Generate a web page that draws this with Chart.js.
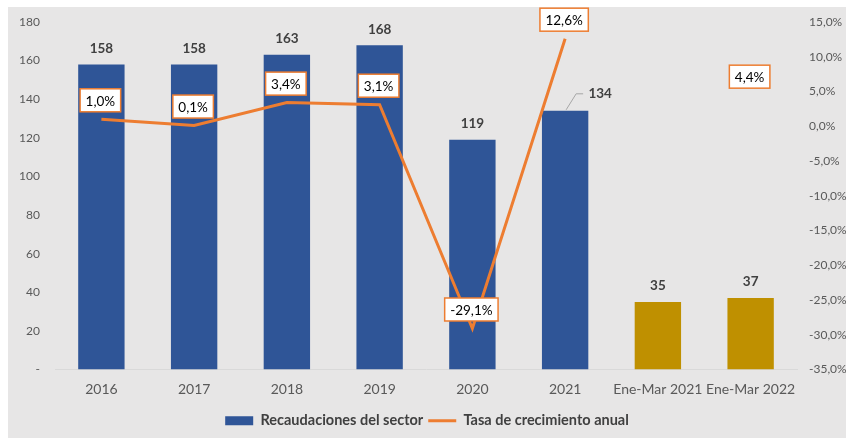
<!DOCTYPE html>
<html>
<head>
<meta charset="utf-8">
<script src="https://cdn.jsdelivr.net/npm/chart.js@4.4.0/dist/chart.umd.min.js"></script>
<style>
  html, body { margin: 0; padding: 0; background: #ffffff; }
  #wrap { position: absolute; left: 8px; top: 7px; width: 838px; height: 431px; background: #E7E6E6; }
</style>
</head>
<body>
<div id="wrap"><canvas id="chart"></canvas></div>
<script>
// data
const categories = ["2016", "2017", "2018", "2019", "2020", "2021", "Ene-Mar 2021", "Ene-Mar 2022"];
const recaudaciones = [158, 158, 163, 168, 119, 134, 35, 37];
const tasaCrecimiento = [1.0, 0.1, 3.4, 3.1, -29.1, 12.6, null, 4.4];
const leftTicks = { min: 0, max: 180, step: 20 };
const rightTicks = { min: -35, max: 15, step: 5 };

const BLUE = "#2F5597", GOLD = "#BF9000", ORANGE = "#ED7D31";
const FONT = "Lato, 'Liberation Sans', sans-serif";

const fmtPct = v => v.toFixed(1).replace('.', ',') + '%';

// draws the value labels (bars in bold, line values inside boxes)
const valueLabels = {
    id: "valueLabels",
    afterDatasetsDraw(chart) {
        const ctx = chart.ctx;
        ctx.save();
        ctx.textAlign = "center";
        ctx.textBaseline = "middle";

        const barMeta = chart.getDatasetMeta(0);
        ctx.font = "bold 13.5px " + FONT;
        ctx.fillStyle = "#404040";
        barMeta.data.forEach((bar, i) => {
            const txt = String(recaudaciones[i]);
            if (i === 5) {
                //2021 label sits off to the side with a leader line
                ctx.strokeStyle = "#A6A6A6";
                ctx.lineWidth = 1;
                ctx.beginPath();
                ctx.moveTo(bar.x + 1, bar.y - 1);
                ctx.lineTo(bar.x + 11, bar.y - 17);
                ctx.lineTo(bar.x + 18, bar.y - 17);
                ctx.stroke();
                ctx.fillText(txt, bar.x + 35, bar.y - 17);
            } else {
                ctx.fillText(txt, bar.x, bar.y - 16);
            }
        });

        const lineMeta = chart.getDatasetMeta(1);
        ctx.font = "13.5px " + FONT;
        lineMeta.data.forEach((pt, i) => {
            const v = tasaCrecimiento[i];
            if (v === null) return;
            const txt = fmtPct(v);
            const w = ctx.measureText(txt).width + 11;
            const h = 23;
            const cx = pt.x - 1, cy = pt.y - 19;
            ctx.fillStyle = "#ffffff";
            ctx.fillRect(cx - w / 2, cy - h / 2, w, h);
            ctx.strokeStyle = ORANGE;
            ctx.lineWidth = 1.5;
            ctx.strokeRect(cx - w / 2, cy - h / 2, w, h);
            ctx.fillStyle = "#000000";
            ctx.fillText(txt, cx, cy + 1);
        });
        ctx.restore();
    }
};

new Chart(document.getElementById("chart"), {
    data: {
        labels: categories,
        datasets: [
            {
                type: "bar",
                label: "Recaudaciones del sector",
                data: recaudaciones,
                backgroundColor: c => (c.dataIndex >= 6 ? GOLD : BLUE),
                yAxisID: "y",
                order: 1,
                barPercentage: 0.5,
                categoryPercentage: 1
            },
            {
                type: "line",
                label: "Tasa de crecimiento anual",
                data: tasaCrecimiento,
                borderColor: ORANGE,
                backgroundColor: ORANGE,
                borderWidth: 3,
                pointRadius: 0,
                tension: 0,
                spanGaps: false,
                yAxisID: "y1",
                order: 0
            }
        ]
    },
    options: {
        responsive: true, maintainAspectRatio: false, animation: false,
        layout: { padding: { top: 15, bottom: 0, left: 0, right: 0 } },
        scales: {
            x: {
                grid: { display: false, drawTicks: false },
                border: { display: true, color: "#D9D9D9", width: 1 },
                ticks: { color: "#595959", font: { family: FONT, size: 14 }, padding: 12, maxRotation: 0, autoSkip: false },
                afterFit: s => { s.height = 39; }
            },
            y: {
                position: "left",
                min: leftTicks.min, max: leftTicks.max,
                grid: { display: false, drawTicks: false },
                border: { display: false },
                ticks: {
                    stepSize: leftTicks.step, color: "#595959", font: { family: FONT, size: 12 }, padding: 15,
                    callback: v => (v === 0 ? "-" : v)
                },
                afterFit: s => { s.width = 47; s.paddingTop = 7; s.paddingBottom = 7; }
            },
            y1: {
                position: "right",
                min: rightTicks.min, max: rightTicks.max,
                grid: { display: false, drawTicks: false },
                border: { display: false },
                ticks: { stepSize: rightTicks.step, color: "#595959", font: { family: FONT, size: 12 }, padding: 12, callback: v => fmtPct(v) },
                afterFit: s => { s.width = 49; s.paddingTop = 7; s.paddingBottom = 7; }
            }
        },
        plugins: {
            tooltip: { enabled: false },
            legend: {
                position: "bottom",
                labels: {
                    usePointStyle: true, pointStyleWidth: 28, boxHeight: 9,
                    color: "#404040", font: { family: FONT, size: 14.5, weight: "bold" },
                    padding: 5,
                    sort: (a, b) => a.datasetIndex - b.datasetIndex,
                    generateLabels: chart => chart.data.datasets.map((ds, i) => ({
                        text: ds.label,
                        datasetIndex: i,
                        fillStyle: i === 0 ? BLUE : ORANGE,
                        strokeStyle: i === 0 ? BLUE : ORANGE,
                        lineWidth: i === 0 ? 0 : 3,
                        pointStyle: i === 0 ? "rect" : "line",
                        fontColor: "#404040",
                        hidden: false
                    }))
                }
            }
        }
    },
    plugins: [valueLabels]
});
</script>
</body>
</html>
